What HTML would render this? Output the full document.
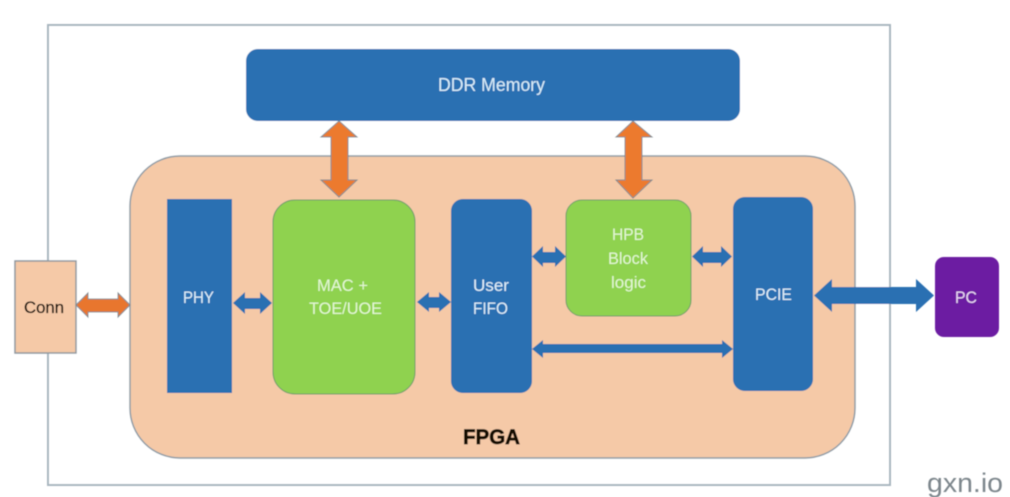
<!DOCTYPE html>
<html>
<head>
<meta charset="utf-8">
<style>
html,body{margin:0;padding:0;background:#fff;}
svg{display:block;}
text{font-family:"Liberation Sans",sans-serif;}
</style>
</head>
<body>
<svg width="1010" height="497" viewBox="0 0 1010 497" xmlns="http://www.w3.org/2000/svg">
<defs><filter id="soft" x="-2%" y="-2%" width="104%" height="104%"><feGaussianBlur stdDeviation="0.45"/></filter></defs>
<rect width="1010" height="497" fill="#ffffff"/>
<g filter="url(#soft)">
<rect x="48" y="25" width="842" height="460" fill="#fff" stroke="#a9b6bf" stroke-width="2"/>
<rect x="130" y="156" width="725" height="302" rx="50" fill="#f5c9a7" stroke="#8d9ba6" stroke-width="1.5"/>
<rect x="246" y="49" width="494" height="72" rx="12" fill="#2c70b2"/>
<text x="438" y="91" font-size="18" fill="#d9eefa" textLength="107" lengthAdjust="spacingAndGlyphs">DDR Memory</text>

<rect x="167" y="199" width="65" height="194" fill="#2c70b2"/>
<text x="183" y="303" font-size="16.5" fill="#e0f0fa" textLength="31" lengthAdjust="spacingAndGlyphs">PHY</text>

<rect x="273" y="200" width="142" height="194" rx="22" fill="#8fd24f" stroke="#6d9c6c" stroke-width="1"/>
<text x="317" y="291" font-size="17" fill="#e4f7d4" textLength="51" lengthAdjust="spacingAndGlyphs">MAC +</text>
<text x="309" y="314" font-size="17" fill="#e4f7d4" textLength="73" lengthAdjust="spacingAndGlyphs">TOE/UOE</text>

<rect x="451" y="199" width="81" height="194" rx="12" fill="#2c70b2"/>
<text x="473" y="291" font-size="17" fill="#e0f0fa" textLength="36" lengthAdjust="spacingAndGlyphs">User</text>
<text x="473" y="314" font-size="17" fill="#e0f0fa" textLength="35" lengthAdjust="spacingAndGlyphs">FIFO</text>

<rect x="566" y="200" width="125" height="116" rx="16" fill="#8fd24f" stroke="#6d9c6c" stroke-width="1"/>
<text x="612" y="240" font-size="17" fill="#e4f7d4" textLength="32" lengthAdjust="spacingAndGlyphs">HPB</text>
<text x="608" y="264" font-size="17" fill="#e4f7d4" textLength="40" lengthAdjust="spacingAndGlyphs">Block</text>
<text x="611" y="288" font-size="17" fill="#e4f7d4" textLength="35" lengthAdjust="spacingAndGlyphs">logic</text>

<rect x="733" y="197" width="80" height="194" rx="12" fill="#2c70b2"/>
<text x="755" y="300" font-size="17" fill="#e0f0fa" textLength="37" lengthAdjust="spacingAndGlyphs">PCIE</text>

<rect x="15" y="261" width="61" height="92" fill="#f5c9a7" stroke="#8f989f" stroke-width="1.5"/>
<text x="24" y="313" font-size="17" fill="#150a02" stroke="#150a02" stroke-width="0.3" textLength="40" lengthAdjust="spacingAndGlyphs">Conn</text>

<rect x="935" y="257" width="64" height="80" rx="9" fill="#6c1fa2"/>
<text x="955" y="303" font-size="17" fill="#ecd8f4" textLength="22" lengthAdjust="spacingAndGlyphs">PC</text>

<!-- vertical orange arrows -->
<polygon points="339,121 357,137 348,137 348,180 357,180 339,197 321,180 331,180 331,137 321,137" fill="#ec7a2e" stroke="#7f8a90" stroke-width="1"/>
<polygon points="633,121 652,137 642,137 642,180 652,180 633,198 616,180 625,180 625,137 616,137" fill="#ec7a2e" stroke="#7f8a90" stroke-width="1"/>

<!-- Conn-PHY arrow -->
<polygon points="76,305 88,293 88,299 118,299 118,293 130,305 118,317 118,312 88,312 88,317" fill="#e8762f" stroke="#7f8a90" stroke-width="1"/>

<!-- blue arrows -->
<polygon points="233,303 245,292 245,298 260,298 260,292 272,303 260,314 260,309 245,309 245,314" fill="#2c70b2"/>
<polygon points="417,302 429,292 429,297 439,297 439,292 451,302 439,312 439,308 429,308 429,312" fill="#2c70b2"/>
<polygon points="532,256.5 543,246 543,252 555,252 555,246 566,256.5 555,267 555,263 543,263 543,267" fill="#2c70b2"/>
<polygon points="692,256.5 703,246 703,252 721,252 721,246 732,256.5 721,267 721,263 703,263 703,267" fill="#2c70b2"/>
<polygon points="532,349 543,340 543,344 722,344 722,340 733,349 722,358 722,353 543,353 543,358" fill="#2c70b2"/>
<polygon points="814,295.5 832,279 832,287 916,287 916,279 934,295.5 916,312 916,304 832,304 832,312" fill="#2c70b2"/>

<text x="463" y="444" font-size="21" font-weight="bold" fill="#120804" stroke="#120804" stroke-width="0.7" textLength="57" lengthAdjust="spacingAndGlyphs">FPGA</text>
<text x="927" y="492" font-size="27" fill="#7d868c" textLength="76" lengthAdjust="spacingAndGlyphs">gxn.io</text>
</g>
</svg>
</body>
</html>
